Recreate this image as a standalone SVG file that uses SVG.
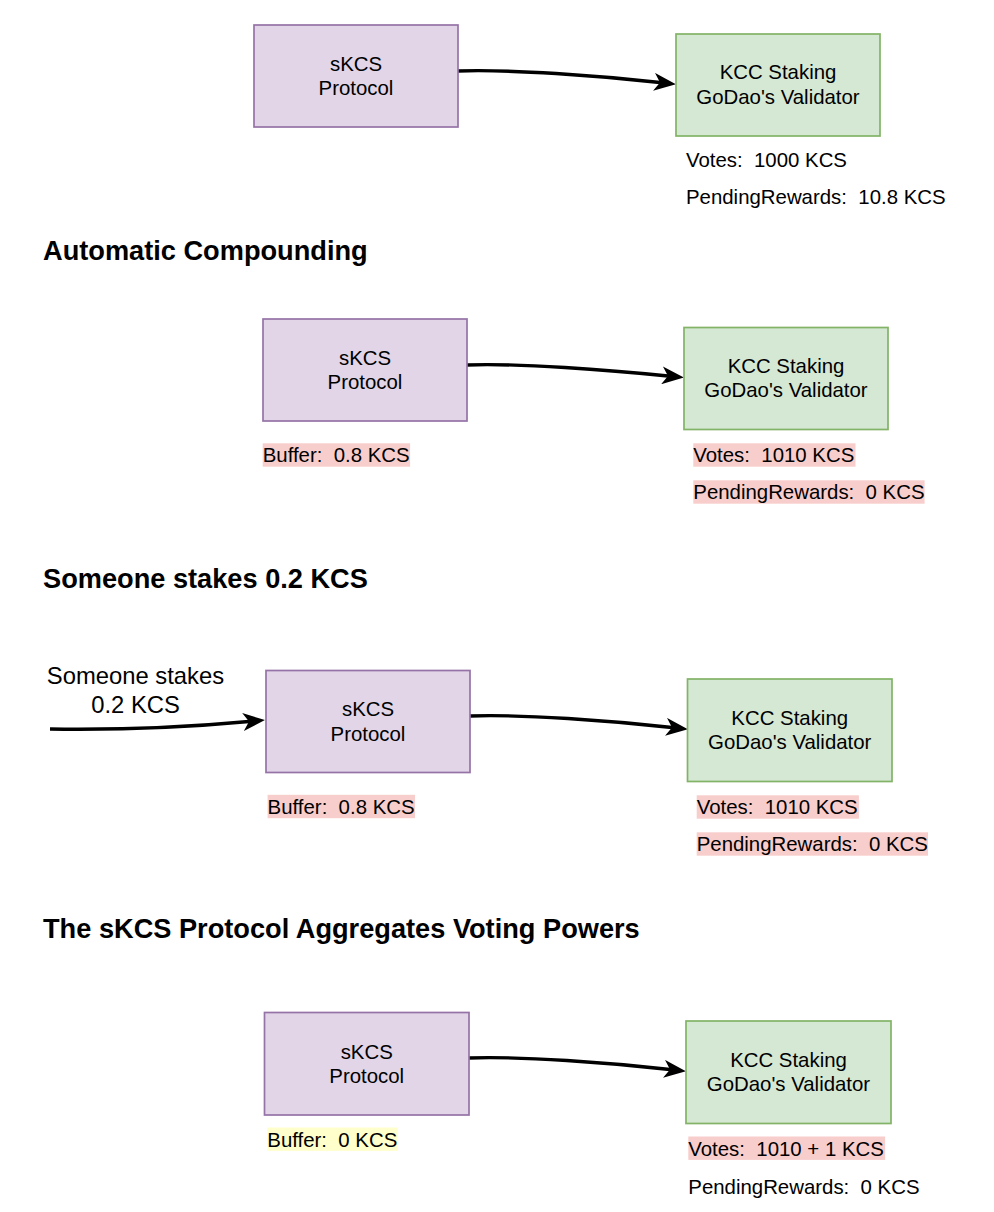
<svg xmlns="http://www.w3.org/2000/svg" width="994" height="1212" viewBox="0 0 994 1212">
<style>
text{font-family:"Liberation Sans",Arial,Helvetica,sans-serif;fill:#000;}
.h{font-size:27.2px;font-weight:bold;}
.t{font-size:20.4px;}
.c{text-anchor:middle;}
.big{font-size:23.8px;text-anchor:middle;}
.p{fill:#e1d5e7;stroke:#9673a6;stroke-width:1.7;}
.g{fill:#d5e8d4;stroke:#82b366;stroke-width:1.7;}
.pk{fill:#f8cecc;}
.yl{fill:#ffffcc;}
.e{fill:none;stroke:#000;stroke-width:3.4;}
</style>
<defs>
<marker id="arr" viewBox="0 0 22 18" refX="6" refY="9" markerWidth="22" markerHeight="18" markerUnits="userSpaceOnUse" orient="auto">
<path d="M0,0 L22,9 L0,18 L6,9 Z" fill="#000"/>
</marker>
</defs>
<rect width="994" height="1212" fill="#fff"/>

<g id="headings">
<text class="h" x="43" y="259.5">Automatic Compounding</text>
<text class="h" x="43" y="588">Someone stakes 0.2 KCS</text>
<text class="h" x="43" y="938">The sKCS Protocol Aggregates Voting Powers</text>
</g>

<g id="connectors">
<path class="e" d="M458,71 C510,69 600,76 660,82.5" marker-end="url(#arr)"/>
<path class="e" d="M467,365 C519,363 609,370 668,376" marker-end="url(#arr)"/>
<path class="e" d="M50,729 C120,730 190,727 249,721.5" marker-end="url(#arr)"/>
<path class="e" d="M470,716 C522,714 612,721 672,727.5" marker-end="url(#arr)"/>
<path class="e" d="M469,1058 C521,1056 611,1063 670,1069.5" marker-end="url(#arr)"/>
</g>

<!-- Section 1 -->
<g id="skcs1">
<rect class="p" x="254" y="25" width="204" height="102"/>
<text class="t c" x="356" y="70.8">sKCS</text>
<text class="t c" x="356" y="95.3">Protocol</text>
</g>
<g id="kcc1">
<rect class="g" x="676" y="34" width="204" height="102"/>
<text class="t c" x="778" y="79.3">KCC Staking</text>
<text class="t c" x="778" y="103.8">GoDao's Validator</text>
</g>
<g id="labels1">
<text class="t" x="686" y="167.3">Votes:&#160; 1000 KCS</text>
<text class="t" x="686" y="204.3">PendingRewards:&#160; 10.8 KCS</text>
</g>

<!-- Section 2 -->
<g id="skcs2">
<rect class="p" x="263" y="319" width="204" height="102"/>
<text class="t c" x="365" y="364.8">sKCS</text>
<text class="t c" x="365" y="389.3">Protocol</text>
</g>
<g id="kcc2">
<rect class="g" x="684" y="327.5" width="204" height="102"/>
<text class="t c" x="786" y="372.8">KCC Staking</text>
<text class="t c" x="786" y="397.3">GoDao's Validator</text>
</g>
<g id="labels2">
<rect class="pk" x="262.7" y="443.3" width="147.4" height="23.4"/>
<text class="t" x="262.7" y="462.3">Buffer:&#160; 0.8 KCS</text>
<rect class="pk" x="693.3" y="443.3" width="162.2" height="23.4"/>
<text class="t" x="693.3" y="462.3">Votes:&#160; 1010 KCS</text>
<rect class="pk" x="693.3" y="480.3" width="231.3" height="23.4"/>
<text class="t" x="693.3" y="499.3">PendingRewards:&#160; 0 KCS</text>
</g>

<!-- Section 3 -->
<g id="stake-label">
<text class="big" x="135.5" y="683.5">Someone stakes</text>
<text class="big" x="135.5" y="712.5">0.2 KCS</text>
</g>
<g id="skcs3">
<rect class="p" x="266" y="670.5" width="204" height="102"/>
<text class="t c" x="368" y="716.3">sKCS</text>
<text class="t c" x="368" y="740.8">Protocol</text>
</g>
<g id="kcc3">
<rect class="g" x="687.5" y="679" width="204.5" height="102.5"/>
<text class="t c" x="789.7" y="724.5">KCC Staking</text>
<text class="t c" x="789.7" y="749">GoDao's Validator</text>
</g>
<g id="labels3">
<rect class="pk" x="267.6" y="794.8" width="147.4" height="23.4"/>
<text class="t" x="267.6" y="813.8">Buffer:&#160; 0.8 KCS</text>
<rect class="pk" x="696.7" y="795.3" width="162.2" height="23.4"/>
<text class="t" x="696.7" y="814.3">Votes:&#160; 1010 KCS</text>
<rect class="pk" x="696.7" y="832.3" width="231.3" height="23.4"/>
<text class="t" x="696.7" y="851.3">PendingRewards:&#160; 0 KCS</text>
</g>

<!-- Section 4 -->
<g id="skcs4">
<rect class="p" x="264.5" y="1012.5" width="204.5" height="102.5"/>
<text class="t c" x="366.7" y="1058.5">sKCS</text>
<text class="t c" x="366.7" y="1083">Protocol</text>
</g>
<g id="kcc4">
<rect class="g" x="686" y="1021" width="205" height="102.5"/>
<text class="t c" x="788.5" y="1066.5">KCC Staking</text>
<text class="t c" x="788.5" y="1091">GoDao's Validator</text>
</g>
<g id="labels4">
<rect class="yl" x="267.3" y="1127.5" width="130.4" height="23.4"/>
<text class="t" x="267.3" y="1146.5">Buffer:&#160; 0 KCS</text>
<rect class="pk" x="688.3" y="1136.5" width="196.8" height="23.4"/>
<text class="t" x="688.3" y="1155.5">Votes:&#160; 1010 + 1 KCS</text>
<text class="t" x="688.3" y="1193.5">PendingRewards:&#160; 0 KCS</text>
</g>
</svg>
